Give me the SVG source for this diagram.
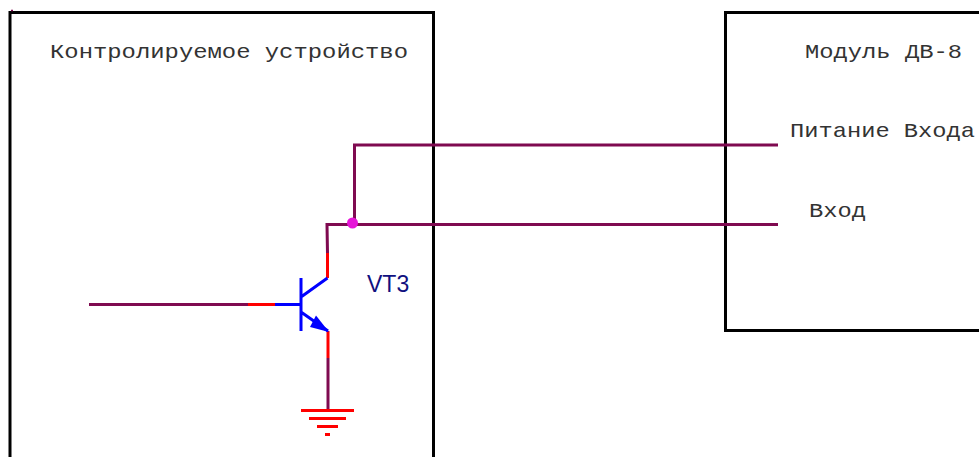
<svg xmlns="http://www.w3.org/2000/svg" width="979" height="457" viewBox="0 0 979 457">
<style>
.box{fill:none;stroke:#000;stroke-width:3}
.w{fill:none;stroke:#7f0a50;stroke-width:3}
.r{fill:none;stroke:#ff0000;stroke-width:3}
.b{fill:none;stroke:#0000ff;stroke-width:3}
.t{font-family:"Liberation Mono",monospace;font-size:21px;fill:#333}
</style>
<rect width="979" height="457" fill="#fff"/>
<g id="device">
<path class="box" d="M10 457V12.500H433.500V457"/>
<text class="t" x="50" y="58" textLength="358" lengthAdjust="spacingAndGlyphs">Контролируемое устройство</text>
</g>
<g id="module">
<path class="box" d="M979 12.500H725.500V330.500H979"/>
<text class="t" x="805" y="58" textLength="157" lengthAdjust="spacingAndGlyphs">Модуль ДВ-8</text>
<text class="t" x="790" y="137" textLength="185" lengthAdjust="spacingAndGlyphs">Питание Входа</text>
<text class="t" x="809" y="217" textLength="57" lengthAdjust="spacingAndGlyphs">Вход</text>
</g>
<g id="connectors">
<path class="w" d="M778 145H354.500V224"/>
<path class="w" d="M778 224.500H327L327.500 253"/>
<path class="r" d="M327.500 253V278"/>
<path class="w" d="M89 304.500H248"/>
<path class="r" d="M248 304.500H275"/>
<path class="r" d="M328 331V358"/>
<path class="w" d="M328 358V410"/>
<path d="M11 10.500H13" stroke="#7f0a50" stroke-width="1.500"/>
</g>
<g id="junction"><circle cx="352.500" cy="223" r="5.500" fill="#e614d8"/></g>
<g id="vt3">
<path class="b" d="M275 304.500H301M301 278V331M301 297L327.500 278M301 312L328 331"/>
<path d="M316 315.500L329 332L310 327Z" fill="#0000ff"/>
<text x="367" y="292" font-family="'Liberation Sans',Arial,sans-serif" font-size="23" fill="#10107f">VT3</text>
</g>
<g id="ground">
<path class="r" d="M301 410.500H354M309 418.500H346M317 426.500H338M325 434.500H330"/>
</g>
</svg>
